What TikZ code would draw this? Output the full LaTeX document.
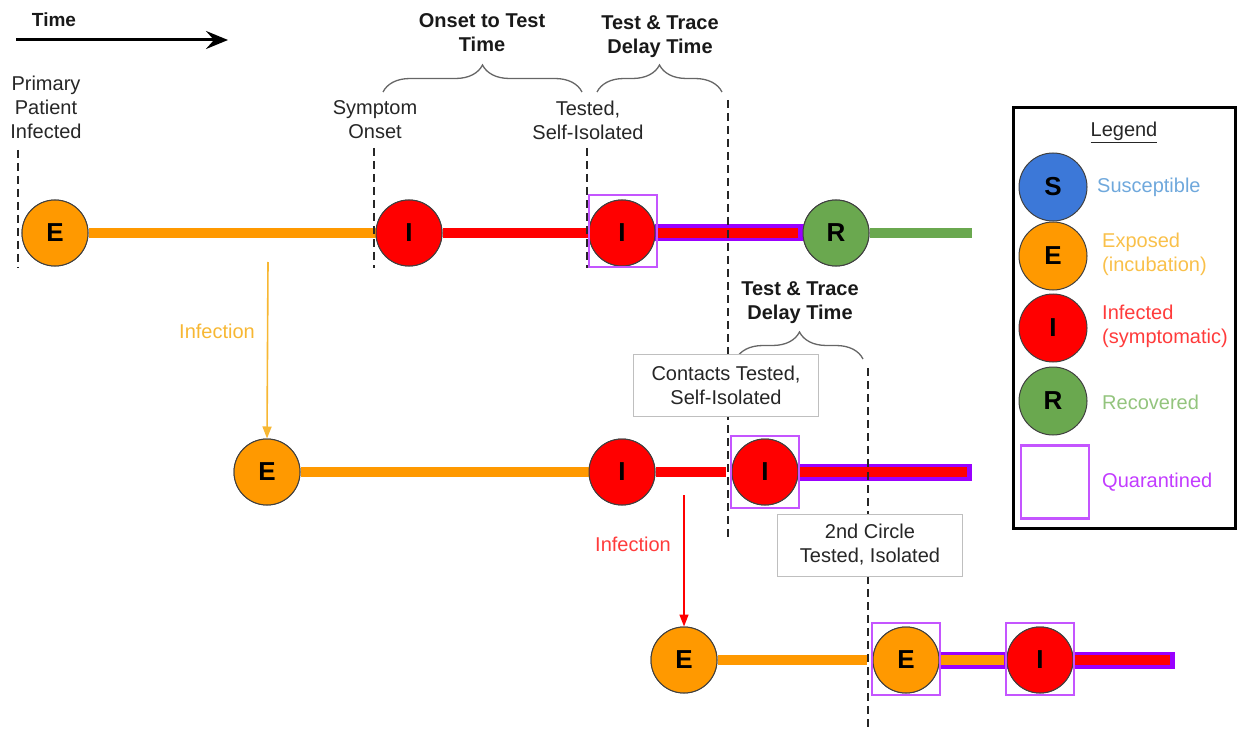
\documentclass[tikz,border=0pt]{standalone}
\usepackage{fontspec}
\setmainfont{Liberation Sans}
\usetikzlibrary{arrows.meta,decorations.pathreplacing}
\definecolor{cE}{HTML}{FF9900}
\definecolor{cI}{HTML}{FF0000}
\definecolor{cR}{HTML}{6AA84F}
\definecolor{cS}{HTML}{3C78D8}
\definecolor{qbar}{HTML}{9900FF}
\definecolor{qline}{HTML}{C455FF}
\definecolor{tS}{HTML}{6FA8DC}
\definecolor{tE}{HTML}{F9C04A}
\definecolor{tI}{HTML}{FF3B3B}
\definecolor{tR}{HTML}{93C47D}
\definecolor{tQ}{HTML}{C23BFF}
\definecolor{arrE}{HTML}{F7B733}
\begin{document}
\begin{tikzpicture}[x=1pt,y=-1pt,
  state/.style={circle, draw=black!75, line width=1pt, minimum size=66pt, inner sep=0pt,
    font=\fontsize{26}{26}\selectfont\bfseries},
  sE/.style={state, fill=cE}, sI/.style={state, fill=cI}, sR/.style={state, fill=cR}, sS/.style={state, fill=cS},
  qsq/.style={draw=qline, line width=2.2pt, minimum width=68pt, minimum height=72pt, inner sep=0pt},
  barE/.style={line width=10pt, cE}, barI/.style={line width=10pt, cI}, barR/.style={line width=10pt, cR},
  qouter/.style={line width=17pt, qbar},
  qinE/.style={line width=10pt, cE}, qinI/.style={line width=10pt, cI},
  vdash/.style={dash pattern=on 8pt off 5pt, line width=2.4pt, black!85},
  lbl/.style={align=center, font=\fontsize{20}{24}\selectfont, text=black!85},
  hdr/.style={align=center, font=\fontsize{20}{24}\selectfont\bfseries, text=black!90},
  brc/.style={decorate, decoration={brace, amplitude=27pt}, draw=black!60, line width=1.3pt},
  tbox/.style={lbl, draw=black!25, fill=white, minimum width=185pt, minimum height=62pt, inner sep=0pt},
  leg/.style={align=left, anchor=west, font=\fontsize{20}{24}\selectfont, inner sep=0pt},
  infarr/.style={line width=1.6pt, -{Triangle[length=12pt,width=9pt]}}
]
\useasboundingbox (0,0) rectangle (1237,730);

% ---- time arrow
\node[hdr, font=\fontsize{19}{24}\selectfont\bfseries] (time) at (54,20) {Time};
\coordinate (ta) at (16,40);
\coordinate (tb) at (228,40);
\draw[line width=3pt, -{Stealth[length=22pt,width=18pt,inset=8pt]}] (ta) -- (tb);

% ---- positions of states
\node[sE] (e1) at (55,233) {E};
\node[sI] (i1) at (409,233) {I};
\node[sI] (i2) at (622,233) {I};
\node[sR] (r1) at (836,233) {R};
\coordinate (g1) at (972,233);

\node[sE] (e2) at (267,472) {E};
\node[sI] (i3) at (622,472) {I};
\node[sI] (i4) at (765,472) {I};
\coordinate (g2) at (972,472);

\node[sE] (e3) at (684,660) {E};
\node[sE] (e4) at (906,660) {E};
\node[sI] (i5) at (1040,660) {I};
\coordinate (g3) at (1175,660);

% ---- bars
\draw[barE] (e1.east) -- (i1.west);
\draw[barI] (i1.east) -- (i2.west);
\draw[qouter] ([xshift=-1pt]i2.east) -- ([xshift=1pt]r1.west);
\draw[qinI] (i2.east) -- ([xshift=-5pt]r1.west);
\draw[barR] (r1.east) -- (g1);

\draw[barE] (e2.east) -- (i3.west);
\draw[barI] (i3.east) -- ([xshift=-6pt]i4.west);
\draw[qouter] ([xshift=-1pt]i4.east) -- (g2);
\draw[qinI] (i4.east) -- ([xshift=-5pt]g2);

\draw[barE] (e3.east) -- ([xshift=-6pt]e4.west);
\draw[qouter] ([xshift=-1pt]e4.east) -- ([xshift=1pt]i5.west);
\draw[qinE] (e4.east) -- ([xshift=-3pt]i5.west);
\draw[qouter] ([xshift=-1pt]i5.east) -- (g3);
\draw[qinI] (i5.east) -- ([xshift=-5pt]g3);

% ---- dashed time markers
\draw[vdash] (18,150) -- (18,268);
\draw[vdash] (374,148) -- (374,268);
\draw[vdash] (587,148) -- (587,268);
\draw[vdash] (728,100) -- (728,540);
\draw[vdash] (868,368) -- (868,730);

% ---- circles on top
\node[sE] at (e1) {E};
\node[sI] at (i1) {I};
\node[sI] at (i2) {I};
\node[sR] at (r1) {R};
\node[sE] at (e2) {E};
\node[sI] at (i3) {I};
\node[sI] at (i4) {I};
\node[sE] at (e3) {E};
\node[sE] at (e4) {E};
\node[sI] at (i5) {I};

% ---- quarantine squares
\node[qsq] (q1) at (623,231) {};
\node[qsq] (q2) at (765,472) {};
\node[qsq] (q3) at (906,659) {};
\node[qsq] (q4) at (1040,659) {};

% ---- labels
\node[lbl] (pp) at (46,107) {Primary\\Patient\\Infected};
\node[lbl] (so) at (375,120) {Symptom\\Onset};
\node[lbl] (ts) at (588,120) {Tested,\\Self-Isolated};
\node[hdr] (ott) at (482,33) {Onset to Test\\Time};
\node[hdr] (ttd1) at (660,37) {Test \& Trace\\Delay Time};
\node[hdr] (ttd2) at (800,303) {Test \& Trace\\Delay Time};

\draw[brc] (383,92) -- (582,92);
\draw[brc] (597,92) -- (722,92);
\draw[brc] (736,359) -- (863,359);

\node[tbox] (ct) at (726,385) {Contacts Tested,\\Self-Isolated};
\node[tbox] (sc) at (870,545) {2nd Circle\\Tested, Isolated};

% ---- infection arrows
\coordinate (src1) at (268,262);
\draw[infarr, arrE] (src1) -- (e2.north);
\node[lbl, text=arrE] (inf1) at (217,331) {Infection};
\coordinate (src2) at (684,495);
\draw[infarr, cI] (src2) -- (e3.north);
\node[lbl, text=tI] (inf2) at (633,544) {Infection};

% ---- legend
\node[draw=black, line width=3pt, minimum width=222pt, minimum height=420pt, inner sep=0pt] (legbox) at (1124,318) {};
\node[font=\fontsize{20}{24}\selectfont, text=black!85] (legt) at (1124,132) {\underline{Legend}};
\node[sS, minimum width=68pt, minimum height=64pt] (ls) at (1053,187) {S};
\node[sE, minimum width=68pt, minimum height=64pt] (le) at (1053,256) {E};
\node[sI, minimum width=68pt, minimum height=64pt] (li) at (1053,328) {I};
\node[sR, minimum width=68pt, minimum height=64pt] (lr) at (1053,401) {R};
\node[qsq, minimum width=68pt, minimum height=73pt] (lq) at (1055,482) {};
\node[leg, text=tS] (lst) at (1097,187) {Susceptible};
\node[leg, text=tE] (let) at (1102,254) {Exposed\\(incubation)};
\node[leg, text=tI] (lit) at (1102,326) {Infected\\(symptomatic)};
\node[leg, text=tR] (lrt) at (1102,402) {Recovered};
\node[leg, text=tQ] (lqt) at (1102,482) {Quarantined};
\end{tikzpicture}
\end{document}
